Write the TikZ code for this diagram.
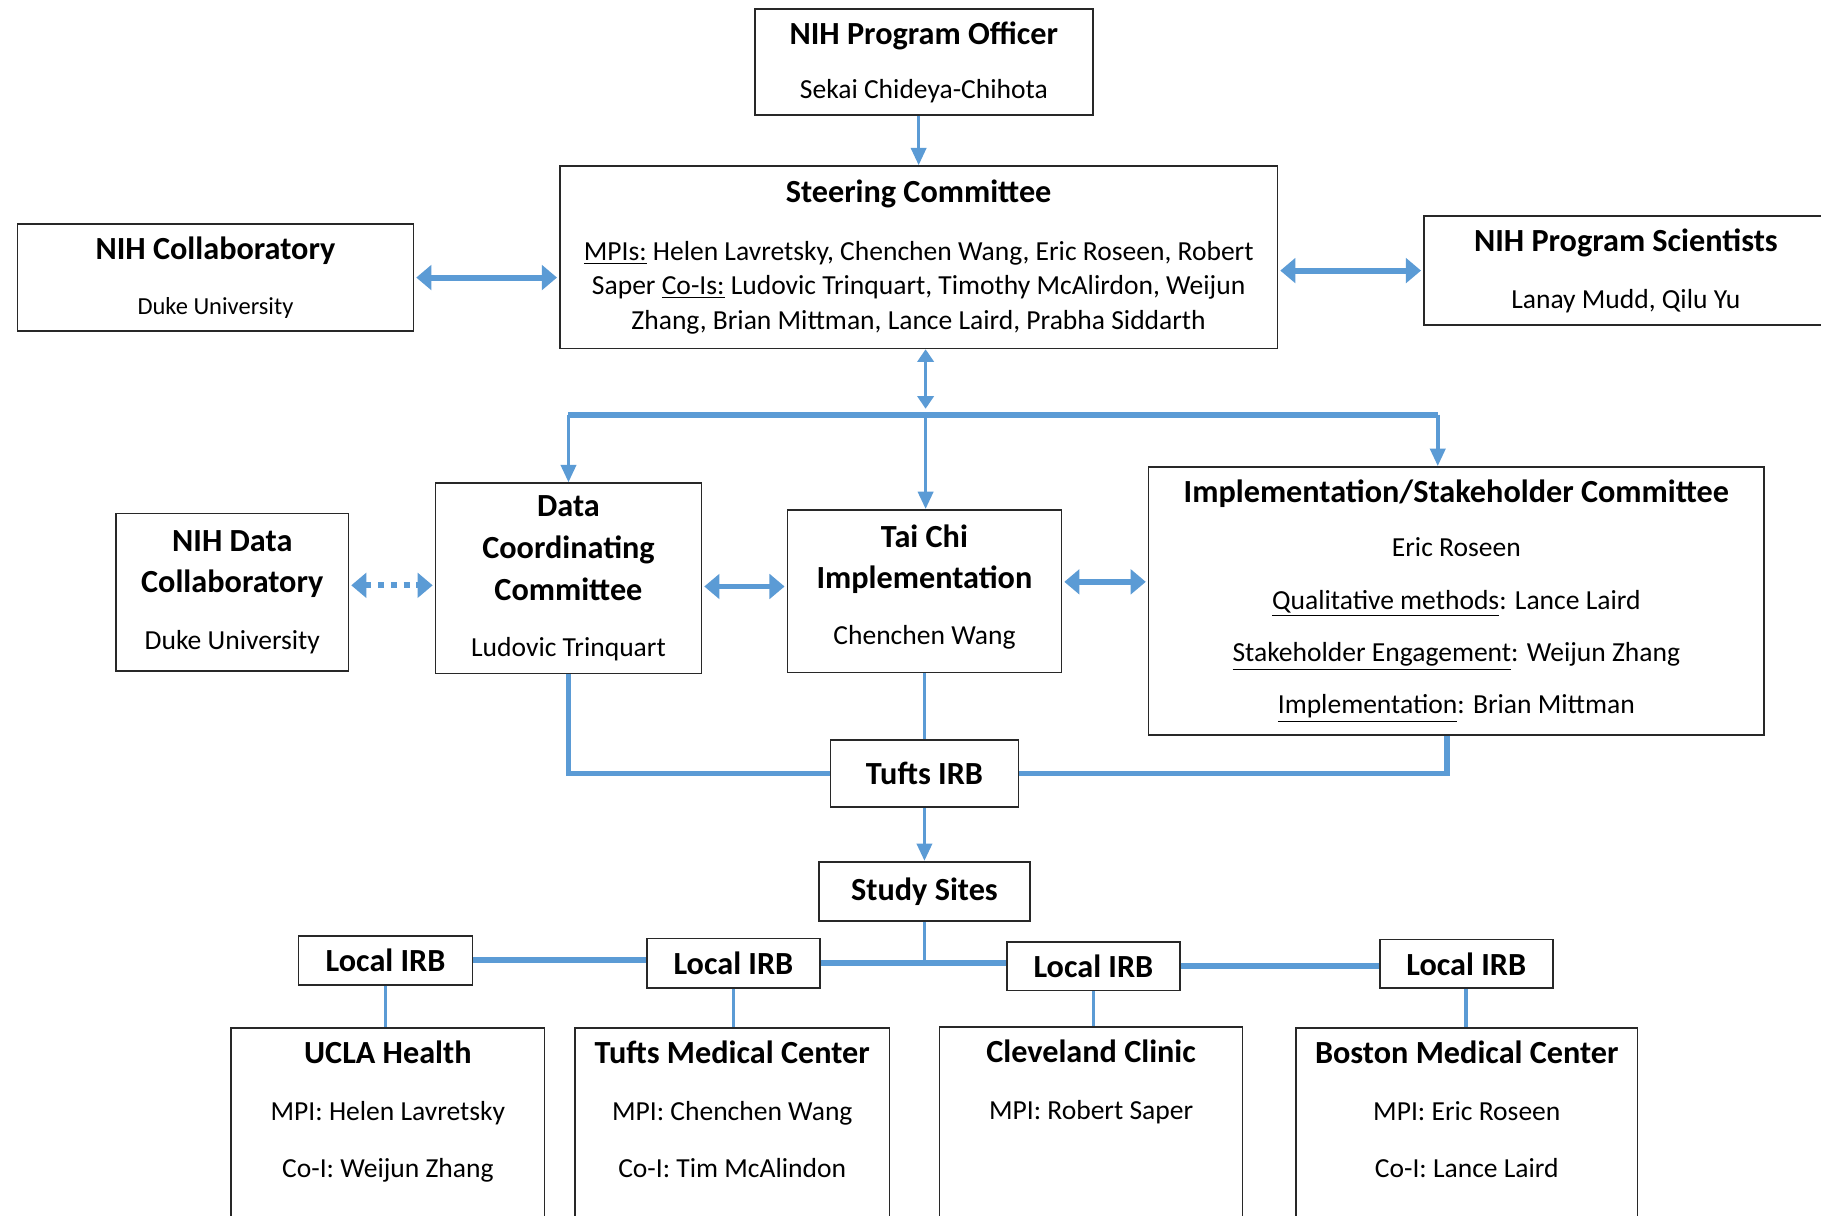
\documentclass[tikz,border=0pt]{standalone}
\usepackage{fontspec}
\setmainfont{Carlito}
\usetikzlibrary{shapes,arrows.meta,positioning,calc}
\usepackage{xcolor}
\definecolor{linkblue}{RGB}{91,155,213}
\definecolor{boxgray}{RGB}{40,40,40}
\newcommand{\hd}[1]{{\fontsize{15.8}{17}\selectfont\bfseries #1}}

\begin{document}
\begin{tikzpicture}[x=0.02cm, y=-0.02cm,
    box/.style={draw=boxgray, line width=0.8pt, fill=white, align=center, inner sep=0pt, font=\fontsize{13.5}{17}\selectfont},
    txt/.style={align=center, inner sep=0pt, font=\fontsize{13.5}{17}\selectfont},
    link/.style={draw=linkblue, line width=1.7pt},
    wide/.style={draw=linkblue, line width=2.9pt},
    arr/.style={-{Triangle[length=0.3cm,width=0.26cm]}},
    duo/.style={{Triangle[length=0.26cm,width=0.42cm]}-{Triangle[length=0.26cm,width=0.42cm]}, shorten <=1pt, shorten >=1pt},
    duosmall/.style={{Triangle[length=0.22cm,width=0.28cm]}-{Triangle[length=0.22cm,width=0.28cm]}}]

    \useasboundingbox (0,0) rectangle (1568,1047);
    \clip (0,0) rectangle (1568,1047);
    \fill[white] (0,0) rectangle (1568,1047);

    % top level
    \node[box, minimum width=5.82cm, minimum height=1.82cm] (off) at (795.5,53.5) {\hd{NIH Program Officer}\\[9.5pt] Sekai Chideya-Chihota};
    \node[box, minimum width=12.36cm, minimum height=3.14cm] (sc) at (791,221.5) {\hd{Steering Committee}\\[11pt] \underline{MPIs:} Helen Lavretsky, Chenchen Wang, Eric Roseen, Robert\\ Saper \underline{Co-Is:} Ludovic Trinquart, Timothy McAlirdon, Weijun\\ Zhang, Brian Mittman, Lance Laird, Prabha Siddarth};
    \node[box, minimum width=6.82cm, minimum height=1.84cm] (col) at (185.5,239) {\hd{NIH Collaboratory}\\[10.3pt] {\fontsize{12}{17}\selectfont Duke University}};
    \node[box, minimum width=6.96cm, minimum height=1.88cm] (sci) at (1400,233) {\hd{NIH Program Scientists}\\[10.9pt] Lanay Mudd, Qilu Yu};

    % committees
    \node[box, minimum width=4cm, minimum height=2.72cm] (ndc) at (200,510) {\hd{NIH Data}\\[3.5pt]\hd{Collaboratory}\\[10.9pt] Duke University};
    \node[box, minimum width=4.58cm, minimum height=3.28cm] (dcc) at (489.5,498) {\hd{Data}\\[3.5pt]\hd{Coordinating}\\[3.5pt]\hd{Committee}\\[10.3pt] Ludovic Trinquart};
    \node[box, minimum width=4.72cm, minimum height=2.8cm] (tc) at (796,509) {\hd{Tai Chi}\\[3.5pt]\hd{Implementation}\\[10.3pt] Chenchen Wang\\[-10.5pt]};
    \node[box, minimum width=10.6cm, minimum height=4.62cm] (isc) at (1254,517.5) {\hd{Implementation/Stakeholder Committee}\\[9.7pt] Eric Roseen\\[8.6pt] \underline{Qualitative methods}: Lance Laird\\[8.6pt] \underline{Stakeholder Engagement}: Weijun Zhang\\[8.6pt] \underline{Implementation}: Brian Mittman};

    % irb and sites
    \node[box, minimum width=3.24cm, minimum height=1.16cm] (tirb) at (796,666) {\hd{Tufts IRB}};
    \node[box, minimum width=3.64cm, minimum height=1.02cm] (ss) at (796,767.5) {\hd{Study Sites}};
    \node[box, minimum width=3cm, minimum height=0.84cm] (irbA) at (332,827) {\hd{Local IRB}};
    \node[box, minimum width=2.98cm, minimum height=0.86cm] (irbB) at (631.5,829.5) {\hd{Local IRB}};
    \node[box, minimum width=2.98cm, minimum height=0.84cm] (irbC) at (941.5,832) {\hd{Local IRB}};
    \node[box, minimum width=2.98cm, minimum height=0.84cm] (irbD) at (1262.5,830) {\hd{Local IRB}};

    \node[box, minimum width=5.4cm, minimum height=4.3cm] (ucla) at (334,992.5) {};
    \node[box, minimum width=5.42cm, minimum height=4.3cm] (tmc) at (630.5,992.5) {};
    \node[box, minimum width=5.22cm, minimum height=4.3cm] (cc) at (939.5,992) {};
    \node[box, minimum width=5.88cm, minimum height=4.3cm] (bmc) at (1263,992.5) {};
    \node[txt, anchor=north] (ucla-t) at (334,896) {\hd{UCLA Health}\\[10.9pt] MPI: Helen Lavretsky\\[10.9pt] Co-I: Weijun Zhang};
    \node[txt, anchor=north] (tmc-t) at (630.5,896) {\hd{Tufts Medical Center}\\[10.9pt] MPI: Chenchen Wang\\[10.9pt] Co-I: Tim McAlindon};
    \node[txt, anchor=north] (cc-t) at (939.5,895) {\hd{Cleveland Clinic}\\[10.9pt] MPI: Robert Saper};
    \node[txt, anchor=north] (bmc-t) at (1263,896) {\hd{Boston Medical Center}\\[10.9pt] MPI: Eric Roseen\\[10.9pt] Co-I: Lance Laird};

    % connectors
    \draw[link, arr] (sc.north |- off.south) -- (sc.north);
    \draw[wide, duo] (col.east) -- (col.east -| sc.west);
    \draw[wide, duo] (sci.west -| sc.east) -- (sci.west);

    \coordinate (barM) at (797,357);
    \coordinate (barR) at (1238,357);
    \draw[link, duosmall, shorten >=0.1cm] (barM |- sc.south) -- (barM);
    \draw[wide] (dcc.north |- barM) -- (barR);
    \draw[link, arr] (dcc.north |- barM) -- (dcc.north);
    \draw[link, arr] (barM) -- (barM |- tc.north);
    \draw[link, arr] (barR) -- (barR |- isc.north);

    \coordinate (ndcR) at ([yshift=0.12cm]ndc.east);
    \coordinate (dccR) at ([yshift=-0.14cm]dcc.east);
    \coordinate (tcR) at ([yshift=0.16cm]tc.east);
    \draw[wide, duo, dash pattern=on 0.1cm off 0.12cm] (ndcR) -- (ndcR -| dcc.west);
    \draw[wide, duo] (dccR) -- (dccR -| tc.west);
    \draw[wide, duo] (tcR) -- (tcR -| isc.west);

    \coordinate (iscB) at ([xshift=-0.16cm]isc.south);
    \draw[wide] (dcc.south) |- (tirb.west);
    \draw[wide] (iscB) |- (tirb.east);
    \draw[link] (tc.south) -- (tirb.north);
    \draw[link, arr] (tirb.south) -- (ss.north);

    \coordinate (jn) at (ss.south |- irbB.east);
    \draw[link] (ss.south) -- (jn);
    \draw[wide] (irbA.east) -- (irbA.east -| irbB.west);
    \draw[wide] (irbB.east) -- (irbB.east -| irbC.west);
    \draw[wide] (irbC.east) -- (irbC.east -| irbD.west);

    \draw[link] (irbA.south) -- (irbA.south |- ucla.north);
    \draw[link] (irbB.south) -- (irbB.south |- tmc.north);
    \draw[link] (irbC.south) -- (irbC.south |- cc.north);
    \draw[link] (irbD.south) -- (irbD.south |- bmc.north);
\end{tikzpicture}
\end{document}
